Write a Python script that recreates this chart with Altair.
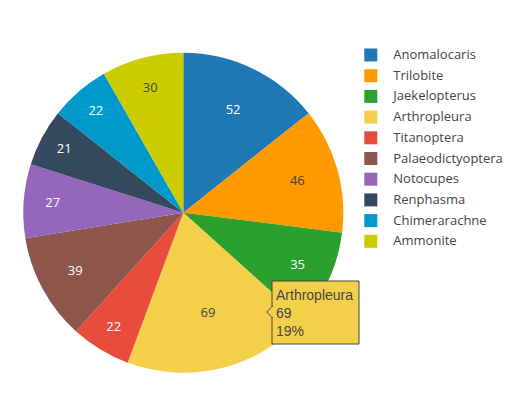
import altair as alt
import pandas as pd

categories = ["Anomalocaris", "Trilobite", "Jaekelopterus", "Arthropleura", "Titanoptera",
              "Palaeodictyoptera", "Notocupes", "Renphasma", "Chimerarachne", "Ammonite"]
values = [52, 46, 35, 69, 22, 39, 27, 21, 22, 30]
colors = ["#1f77b4", "#ff9900", "#2ca02c", "#f4d04a", "#e74c3c",
          "#8c564b", "#9467bd", "#34495e", "#0099cc", "#cccc00"]
dark_label_cats = ["Trilobite", "Arthropleura", "Ammonite"]
hover_cat = "Arthropleura"

df = pd.DataFrame({"cat": categories, "val": values, "idx": list(range(len(categories)))})

CX, CY, R = 175.3, 204.7, 160

base = alt.Chart(df).transform_joinaggregate(total="sum(val)").transform_window(
    cum="sum(val)", sort=[alt.SortField("idx")], frame=[None, 0]
).transform_calculate(
    frac="datum.val / datum.total",
    mid="2 * PI * (datum.cum - datum.val / 2) / datum.total",
    lr=f"{R} * (0.93 - 1.5 * datum.val / datum.total)",
).transform_calculate(
    lx=f"{CX} + datum.lr * sin(datum.mid)",
    ly=f"{CY} - datum.lr * cos(datum.mid)",
)

color_scale = alt.Scale(domain=categories, range=colors)

pie = base.mark_arc(outerRadius=R, strokeWidth=0).encode(
    theta=alt.Theta("val:Q", stack=True),
    order=alt.Order("idx:Q"),
    x=alt.value(CX),
    y=alt.value(CY),
    color=alt.Color(
        "cat:N", scale=color_scale, sort=categories,
        legend=alt.Legend(
            title=None, orient="none", legendX=356.3, legendY=40.5,
            symbolType="square", symbolSize=169, symbolStrokeWidth=0, symbolOpacity=1,
            labelFont="Open Sans", labelFontSize=13, labelColor="#444",
            labelOffset=16, rowPadding=6.7, padding=0, labelLimit=300,
        ),
    ),
)

labels = base.mark_text(font="Open Sans", fontSize=13, baseline="middle").encode(
    x=alt.X("lx:Q", scale=None),
    y=alt.Y("ly:Q", scale=None),
    text=alt.Text("val:Q"),
    color=alt.condition(
        alt.FieldOneOfPredicate(field="cat", oneOf=dark_label_cats),
        alt.value("#444444"), alt.value("#ffffff"),
    ),
)

hover = base.transform_filter(alt.datum.cat == hover_cat).transform_calculate(
    tip="datum.cat + '\\n' + datum.val + '\\n' + format(datum.frac * 100, '.0f') + '%'"
)

box = hover.mark_rect(fill="#f4d04a", stroke="#444444", strokeWidth=1).encode(
    x=alt.value(264), x2=alt.value(351), y=alt.value(273), y2=alt.value(336)
)
arrow = hover.mark_point(
    shape="M0.15,-1 L-0.9,0 L0.15,1", filled=True, fill="#f4d04a",
    stroke="#444444", strokeWidth=1, size=144, opacity=1,
).encode(x=alt.value(264), y=alt.value(304))
arrow_cover = hover.mark_rect(fill="#f4d04a").encode(
    x=alt.value(263.5), x2=alt.value(265), y=alt.value(299), y2=alt.value(309)
)
tiptext = hover.mark_text(
    align="left", baseline="alphabetic", font="Liberation Sans", fontSize=14,
    lineBreak="\n", lineHeight=18, color="#444444",
).encode(x=alt.value(268), y=alt.value(292), text="tip:N")

chart = alt.layer(pie, labels, box, arrow, arrow_cover, tiptext).properties(
    width=513, height=380,
    autosize=alt.AutoSizeParams(type="none"),
    padding=0,
).configure_view(stroke=None)

chart.save("out.html", embed_options={"renderer": "svg", "actions": False})
